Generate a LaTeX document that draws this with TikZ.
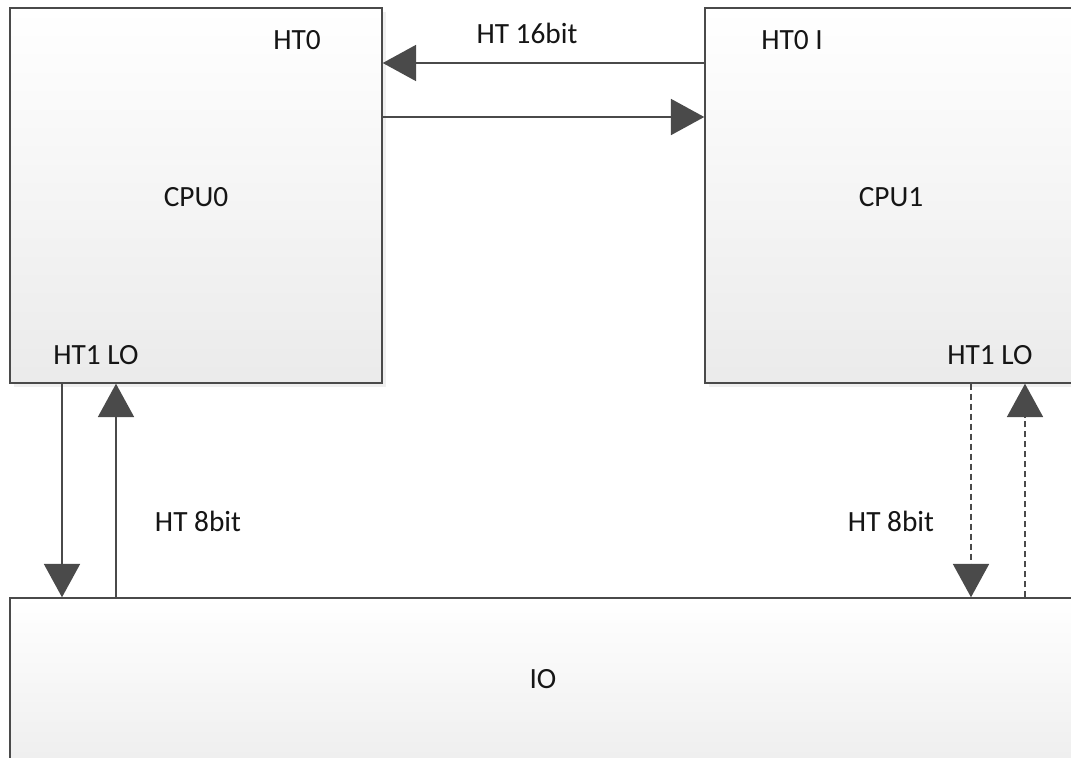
\documentclass[tikz,border=0pt]{standalone}
\usepackage{fontspec}
\setmainfont{Carlito}
\usetikzlibrary{arrows.meta,shadows}
\definecolor{edge}{HTML}{4A4A4A}
\definecolor{ink}{HTML}{151515}
\tikzset{
  box/.style={draw=edge, line width=1.1pt, top color=white, bottom color=black!8,
    drop shadow={opacity=0.12, shadow xshift=3pt, shadow yshift=-3pt}, inner sep=0pt},
  lbl/.style={text=ink, font=\fontsize{22}{25}\selectfont, inner sep=0pt},
  conn/.style={draw=edge, line width=1.3pt, -{Triangle[length=25pt,width=27pt]}},
  dconn/.style={conn, dash pattern=on 5pt off 2.5pt}
}
\begin{document}
\begin{tikzpicture}[x=0.75pt,y=-0.75pt]
\useasboundingbox[fill=white] (0,0) rectangle (1071,757);
\node[box, minimum width=279pt, minimum height=281.25pt] (cpu0) at (196,195.5) {};
\node[box, minimum width=296.25pt, minimum height=281.25pt] (cpu1) at (902.5,195.5) {};
\node[box, minimum width=817.5pt, minimum height=151.5pt] (io) at (555,699) {};
% labels
\node[lbl] (ht0) at (297,40) {HT0};
\node[lbl] (ht16) at (527,33) {HT 16bit};
\node[lbl] (ht0i) at (792,40) {HT0 I};
\node[lbl] (c0) at (196,197) {CPU0};
\node[lbl] (c1) at (891,197) {CPU1};
\node[lbl] (lo0) at (96,355) {HT1 LO};
\node[lbl] (lo1) at (990,355) {HT1 LO};
\node[lbl] (b8a) at (198,521) {HT 8bit};
\node[lbl] (b8b) at (891,521) {HT 8bit};
\node[lbl] (iol) at (543,679) {IO};
% helper coordinates
\coordinate (ya) at (0,63);
\coordinate (yb) at (0,117);
\coordinate (xa) at (62,0);
\coordinate (xb) at (116,0);
\coordinate (xc) at (971,0);
\coordinate (xd) at (1025,0);
% connectors
\draw[conn] (cpu1.west |- ya) -- (cpu0.east |- ya);
\draw[conn] (cpu0.east |- yb) -- (cpu1.west |- yb);
\draw[conn] (xa |- cpu0.south) -- (xa |- io.north);
\draw[conn] (xb |- io.north) -- (xb |- cpu0.south);
\draw[dconn] (xc |- cpu1.south) -- (xc |- io.north);
\draw[dconn] (xd |- io.north) -- (xd |- cpu1.south);
\end{tikzpicture}
\end{document}
